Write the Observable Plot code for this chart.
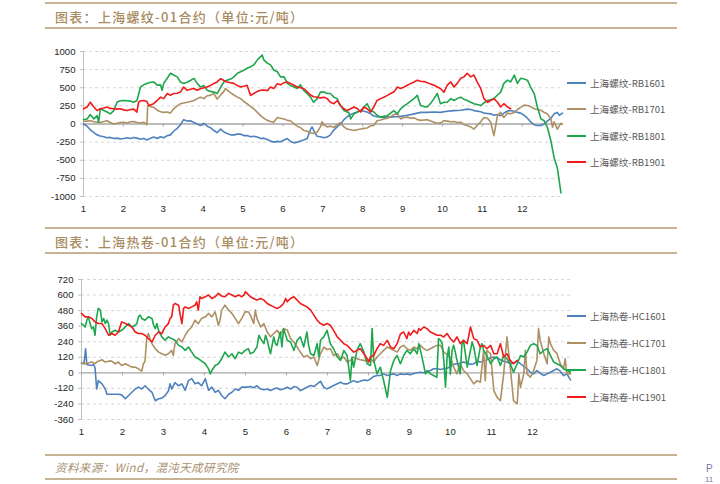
<!DOCTYPE html>
<html><head><meta charset="utf-8">
<script src="https://cdn.jsdelivr.net/npm/d3@7"></script>
<script src="https://cdn.jsdelivr.net/npm/@observablehq/plot@0.6"></script>
<style>
body{margin:0;width:720px;height:484px;position:relative;background:#fff;overflow:hidden;font-family:"Noto Sans CJK SC",sans-serif}
.hl{position:absolute;left:45px;width:632px;height:2px;background:#c9b394}
.title{position:absolute;left:55px;font-size:13px;line-height:16px;color:#a88b60;letter-spacing:1.3px;font-weight:500;white-space:nowrap}
.plot{position:absolute;left:0}
.row{position:absolute;display:flex;align-items:center;white-space:nowrap;font-size:9.6px;line-height:14px;height:14px;color:#595959}
.sw{width:19px;height:2px;margin-right:4px}
.foot{position:absolute;left:55px;top:459px;font-size:11.5px;line-height:16px;color:#a89070;font-style:italic;letter-spacing:0.4px}
</style></head>
<body>
<div class="hl" style="top:2px"></div>
<div class="title" style="top:9px">图表：上海螺纹-01合约（单位:元/吨）</div>
<div class="hl" style="top:27px"></div>
<div id="p1" class="plot" style="top:40px"></div>
<div id="l1"></div>
<div class="hl" style="top:227px"></div>
<div class="title" style="top:234px">图表：上海热卷-01合约（单位:元/吨）</div>
<div class="hl" style="top:252px"></div>
<div id="p2" class="plot" style="top:265px"></div>
<div id="l2"></div>
<div class="hl" style="top:454px"></div>
<div class="foot">资料来源：Wind，混沌天成研究院</div>
<div class="hl" style="top:478px"></div>
<div style="position:absolute;left:706px;top:463px;font-size:10px;color:#7d74aa;font-family:'Liberation Sans',sans-serif">P</div>
<div style="position:absolute;left:705px;top:475px;font-size:8px;color:#7d74aa;font-family:'Liberation Sans',sans-serif">11</div>
<script>
const months = [1,2,3,4,5,6,7,8,9,10,11,12];
const rbTicks = [-1000,-750,-500,-250,0,250,500,750,1000];
const hcTicks = [-360,-240,-120,0,120,240,360,480,600,720];
const rbNames = ["上海螺纹-RB1601","上海螺纹-RB1701","上海螺纹-RB1801","上海螺纹-RB1901"];
const hcNames = ["上海热卷-HC1601","上海热卷-HC1701","上海热卷-HC1801","上海热卷-HC1901"];
const colors = ["#4f81bd","#ad9064","#1ea64c","#f01b1b"];

const rb1601 = [[1.00,0],[1.09,-30],[1.17,-80],[1.26,-120],[1.34,-150],[1.42,-165],[1.51,-175],[1.59,-190],[1.67,-185],[1.76,-200],[1.84,-195],[1.92,-205],[2.01,-200],[2.09,-190],[2.18,-200],[2.26,-185],[2.34,-195],[2.43,-210],[2.51,-200],[2.59,-220],[2.68,-195],[2.76,-180],[2.85,-200],[2.93,-175],[3.01,-190],[3.10,-160],[3.18,-150],[3.26,-100],[3.35,-60],[3.43,-10],[3.51,60],[3.60,40],[3.68,45],[3.77,20],[3.85,0],[3.93,-20],[4.02,10],[4.10,-30],[4.18,-50],[4.27,-90],[4.35,-120],[4.44,-70],[4.52,-110],[4.60,-130],[4.69,-150],[4.77,-150],[4.86,-140],[4.94,-140],[5.02,-160],[5.10,-160],[5.19,-175],[5.27,-170],[5.36,-180],[5.44,-200],[5.52,-195],[5.61,-215],[5.69,-235],[5.77,-250],[5.86,-240],[5.94,-245],[6.03,-220],[6.11,-200],[6.19,-240],[6.28,-260],[6.36,-250],[6.44,-235],[6.52,-220],[6.61,-200],[6.69,-80],[6.73,-40],[6.78,-100],[6.86,-170],[6.94,-175],[7.03,-190],[7.11,-180],[7.19,-150],[7.28,-80],[7.36,-40],[7.45,0],[7.53,60],[7.61,100],[7.70,130],[7.78,150],[7.86,160],[7.95,185],[8.03,175],[8.11,165],[8.20,140],[8.28,110],[8.36,100],[8.45,95],[8.53,90],[8.62,100],[8.70,95],[8.78,100],[8.87,100],[8.95,105],[9.12,120],[9.29,140],[9.45,160],[9.62,160],[9.79,165],[9.95,160],[10.12,175],[10.29,185],[10.46,190],[10.62,205],[10.71,200],[10.79,185],[10.96,170],[11.04,150],[11.13,145],[11.21,140],[11.29,120],[11.38,130],[11.46,115],[11.54,150],[11.63,180],[11.71,185],[11.80,175],[11.88,160],[11.96,150],[12.05,120],[12.13,80],[12.21,30],[12.30,-10],[12.38,-20],[12.47,-20],[12.55,0],[12.63,40],[12.72,80],[12.80,140],[12.88,160],[12.93,120],[13.01,150]];
const rb1701 = [[1.00,35],[1.09,40],[1.17,45],[1.26,30],[1.34,25],[1.42,20],[1.51,35],[1.59,45],[1.67,20],[1.76,0],[1.84,10],[1.92,20],[2.01,25],[2.09,15],[2.18,30],[2.26,35],[2.34,20],[2.43,15],[2.51,25],[2.59,-10],[2.61,255],[2.68,240],[2.76,230],[2.85,190],[2.93,170],[3.01,160],[3.10,165],[3.18,150],[3.26,210],[3.35,250],[3.43,280],[3.51,290],[3.60,300],[3.68,310],[3.77,325],[3.85,350],[3.93,370],[4.02,350],[4.10,390],[4.18,395],[4.27,420],[4.35,345],[4.44,400],[4.52,450],[4.56,490],[4.60,470],[4.69,430],[4.77,400],[4.86,370],[4.94,350],[5.02,310],[5.10,280],[5.19,240],[5.27,210],[5.36,160],[5.44,115],[5.52,80],[5.61,50],[5.69,35],[5.77,25],[5.86,90],[5.94,80],[6.03,70],[6.11,50],[6.19,45],[6.28,0],[6.36,-30],[6.44,-50],[6.53,-90],[6.61,-100],[6.69,-120],[6.77,-130],[6.86,-110],[6.94,-40],[6.98,30],[7.03,-10],[7.11,-40],[7.19,-30],[7.28,-45],[7.36,-10],[7.44,20],[7.53,-40],[7.61,-70],[7.70,-80],[7.78,-90],[7.86,-80],[7.95,-70],[8.03,-60],[8.11,-55],[8.20,-25],[8.28,-20],[8.36,45],[8.45,55],[8.53,70],[8.62,80],[8.70,100],[8.78,130],[8.87,140],[8.95,70],[9.04,90],[9.12,95],[9.21,80],[9.29,85],[9.37,60],[9.45,50],[9.54,55],[9.62,60],[9.71,40],[9.79,25],[9.87,10],[9.95,15],[10.04,45],[10.12,40],[10.21,30],[10.29,35],[10.37,20],[10.46,25],[10.54,-10],[10.62,-20],[10.71,-40],[10.79,-70],[10.87,-20],[10.96,30],[11.04,90],[11.13,80],[11.21,25],[11.29,-160],[11.38,115],[11.46,160],[11.54,90],[11.63,150],[11.71,140],[11.80,160],[11.88,200],[11.96,230],[12.05,260],[12.13,255],[12.21,240],[12.30,210],[12.38,200],[12.47,190],[12.55,160],[12.63,140],[12.72,70],[12.76,-45],[12.80,30],[12.88,-70],[12.97,10],[13.01,0]];
const rb1801 = [[1.00,60],[1.09,70],[1.17,130],[1.26,70],[1.34,115],[1.38,25],[1.42,210],[1.51,185],[1.59,165],[1.67,140],[1.76,185],[1.84,300],[1.92,320],[2.01,325],[2.09,320],[2.18,315],[2.26,300],[2.34,325],[2.43,510],[2.51,540],[2.59,560],[2.68,575],[2.76,580],[2.85,535],[2.93,540],[2.97,465],[3.01,560],[3.10,630],[3.18,700],[3.26,675],[3.35,650],[3.43,580],[3.51,560],[3.60,575],[3.68,600],[3.77,630],[3.85,560],[3.93,510],[4.02,530],[4.10,465],[4.18,450],[4.27,440],[4.35,420],[4.44,510],[4.52,580],[4.60,605],[4.69,620],[4.77,650],[4.86,700],[4.94,720],[5.02,740],[5.10,770],[5.19,790],[5.27,815],[5.36,885],[5.44,930],[5.48,950],[5.52,885],[5.61,840],[5.69,815],[5.77,745],[5.86,720],[5.94,650],[6.03,650],[6.11,560],[6.19,530],[6.28,510],[6.36,490],[6.44,540],[6.52,465],[6.61,420],[6.69,370],[6.77,300],[6.86,350],[6.94,440],[7.03,440],[7.11,420],[7.19,420],[7.28,370],[7.36,350],[7.44,255],[7.53,185],[7.61,165],[7.65,160],[7.70,70],[7.78,140],[7.86,165],[7.95,185],[8.03,235],[8.11,280],[8.20,185],[8.28,165],[8.36,120],[8.45,95],[8.53,105],[8.62,115],[8.70,150],[8.78,185],[8.87,140],[8.95,210],[9.04,250],[9.12,280],[9.21,320],[9.29,350],[9.37,395],[9.45,255],[9.54,240],[9.62,235],[9.71,290],[9.79,350],[9.87,420],[9.95,280],[10.04,300],[10.12,300],[10.21,350],[10.29,325],[10.37,350],[10.46,370],[10.54,340],[10.62,325],[10.71,300],[10.79,280],[10.87,270],[10.96,255],[11.04,290],[11.13,325],[11.21,335],[11.29,350],[11.38,400],[11.46,440],[11.54,560],[11.63,605],[11.71,580],[11.80,675],[11.88,560],[11.96,630],[12.05,620],[12.13,605],[12.21,510],[12.30,420],[12.38,235],[12.47,70],[12.55,45],[12.63,-45],[12.72,-235],[12.80,-465],[12.88,-605],[12.93,-790],[12.97,-950]];
const rb1901 = [[1.00,210],[1.09,235],[1.17,300],[1.26,235],[1.34,185],[1.42,210],[1.51,220],[1.59,235],[1.67,215],[1.76,210],[1.84,205],[1.92,210],[2.01,195],[2.09,185],[2.18,200],[2.26,205],[2.34,165],[2.38,300],[2.43,320],[2.51,325],[2.59,310],[2.64,255],[2.76,280],[2.85,325],[2.93,370],[3.01,350],[3.10,420],[3.18,395],[3.26,420],[3.35,425],[3.43,440],[3.51,510],[3.60,465],[3.68,480],[3.77,490],[3.85,465],[3.93,485],[4.02,500],[4.10,510],[4.18,530],[4.27,560],[4.35,580],[4.44,625],[4.52,600],[4.60,580],[4.69,570],[4.77,560],[4.86,530],[4.94,510],[5.02,520],[5.10,535],[5.19,395],[5.27,420],[5.36,450],[5.44,465],[5.52,470],[5.61,460],[5.69,510],[5.77,490],[5.86,555],[5.94,540],[6.03,570],[6.11,580],[6.19,560],[6.28,535],[6.36,510],[6.44,500],[6.52,490],[6.61,445],[6.69,400],[6.77,375],[6.86,370],[6.94,360],[7.03,370],[7.11,350],[7.19,300],[7.28,280],[7.36,325],[7.44,255],[7.53,210],[7.61,185],[7.70,210],[7.78,235],[7.86,215],[7.95,165],[8.03,235],[8.11,210],[8.20,165],[8.28,235],[8.36,325],[8.45,350],[8.53,370],[8.62,395],[8.70,420],[8.78,440],[8.87,510],[8.95,490],[9.04,510],[9.12,535],[9.21,560],[9.29,580],[9.37,605],[9.45,590],[9.54,585],[9.62,570],[9.71,550],[9.79,535],[9.87,510],[9.95,490],[10.04,440],[10.12,535],[10.21,580],[10.29,510],[10.37,560],[10.46,630],[10.54,650],[10.62,700],[10.71,650],[10.79,675],[10.87,580],[10.96,490],[11.04,350],[11.13,300],[11.21,325],[11.29,350],[11.38,300],[11.46,235],[11.54,280],[11.63,235],[11.71,210]];

const hc1601 = [[1.00,75],[1.06,70],[1.10,185],[1.13,65],[1.17,60],[1.25,57],[1.29,65],[1.33,40],[1.37,-125],[1.41,-60],[1.50,-85],[1.58,-125],[1.62,-165],[1.74,-165],[1.90,-165],[1.98,-170],[2.07,-200],[2.15,-175],[2.23,-150],[2.31,-125],[2.39,-110],[2.47,-125],[2.55,-100],[2.63,-125],[2.72,-150],[2.80,-215],[2.88,-200],[2.96,-195],[3.04,-175],[3.12,-140],[3.16,-85],[3.20,-125],[3.28,-75],[3.37,-100],[3.45,-85],[3.53,-135],[3.61,-60],[3.69,-45],[3.77,-85],[3.85,-75],[3.93,-100],[4.02,-45],[4.10,-135],[4.18,-110],[4.26,-150],[4.34,-135],[4.42,-175],[4.50,-200],[4.59,-165],[4.67,-150],[4.75,-125],[4.83,-135],[4.91,-110],[4.99,-110],[5.04,-110],[5.12,-105],[5.20,-115],[5.28,-100],[5.37,-125],[5.45,-130],[5.53,-125],[5.61,-137],[5.69,-125],[5.77,-117],[5.85,-130],[5.93,-125],[6.02,-111],[6.10,-125],[6.18,-106],[6.26,-111],[6.34,-137],[6.42,-125],[6.50,-111],[6.59,-98],[6.67,-106],[6.75,-85],[6.83,-65],[6.91,-111],[6.99,-124],[7.07,-111],[7.15,-98],[7.24,-85],[7.32,-72],[7.40,-85],[7.48,-85],[7.56,-72],[7.64,-60],[7.72,-72],[7.80,-65],[7.89,-55],[7.97,-60],[8.05,-47],[8.13,-28],[8.21,-20],[8.29,-20],[8.37,-8],[8.46,-20],[8.54,-13],[8.62,-8],[8.70,-20],[8.78,-8],[8.86,-13],[8.94,-8],[9.02,-15],[9.11,-5],[9.19,0],[9.27,5],[9.35,0],[9.43,5],[9.51,18],[9.59,31],[9.67,31],[9.76,26],[9.84,31],[9.92,36],[10.00,49],[10.08,65],[10.16,70],[10.24,75],[10.32,83],[10.41,75],[10.49,65],[10.57,70],[10.65,90],[10.73,83],[10.81,90],[10.89,101],[10.98,116],[11.06,122],[11.14,116],[11.22,101],[11.30,90],[11.38,83],[11.46,70],[11.54,75],[11.63,90],[11.71,70],[11.79,49],[11.87,31],[11.95,5],[12.03,-8],[12.11,18],[12.19,-3],[12.28,-21],[12.36,-8],[12.44,5],[12.52,18],[12.60,31],[12.68,13],[12.76,-21],[12.84,-8],[12.93,-54]];
const hc1701 = [[1.00,75],[1.09,70],[1.17,75],[1.25,83],[1.33,70],[1.37,83],[1.41,90],[1.50,101],[1.58,83],[1.66,90],[1.74,90],[1.82,70],[1.90,83],[1.98,57],[2.07,70],[2.15,57],[2.23,44],[2.31,44],[2.39,31],[2.47,13],[2.51,70],[2.55,90],[2.59,264],[2.63,303],[2.67,264],[2.72,225],[2.80,186],[2.88,160],[2.96,147],[3.04,135],[3.12,147],[3.20,173],[3.24,135],[3.28,225],[3.37,264],[3.45,238],[3.53,290],[3.61,328],[3.69,354],[3.77,406],[3.85,380],[3.93,420],[4.02,432],[4.10,458],[4.18,432],[4.26,470],[4.34,367],[4.38,406],[4.42,484],[4.50,522],[4.59,484],[4.67,458],[4.75,420],[4.83,380],[4.91,420],[4.99,470],[5.07,470],[5.12,445],[5.20,380],[5.24,484],[5.28,420],[5.37,354],[5.45,380],[5.53,315],[5.61,277],[5.69,303],[5.77,328],[5.85,290],[5.93,341],[6.02,330],[6.10,264],[6.18,238],[6.26,199],[6.34,160],[6.42,122],[6.50,134],[6.59,109],[6.67,122],[6.75,57],[6.83,147],[6.91,199],[6.99,180],[7.07,186],[7.15,134],[7.24,147],[7.32,109],[7.40,122],[7.48,83],[7.56,96],[7.64,122],[7.72,109],[7.80,101],[7.89,96],[7.97,90],[8.05,109],[8.13,83],[8.21,122],[8.29,147],[8.37,173],[8.46,199],[8.54,186],[8.62,173],[8.70,160],[8.78,199],[8.86,212],[8.94,186],[9.02,173],[9.11,199],[9.19,186],[9.27,212],[9.35,186],[9.43,173],[9.51,186],[9.59,199],[9.67,212],[9.76,212],[9.84,160],[10.00,122],[10.08,44],[10.16,-8],[10.24,70],[10.32,18],[10.41,-8],[10.49,-47],[10.57,-85],[10.65,-60],[10.73,-72],[10.81,173],[10.85,-60],[10.89,173],[10.98,147],[11.06,-137],[11.14,-189],[11.22,-215],[11.30,-8],[11.38,277],[11.46,44],[11.54,-215],[11.63,-240],[11.67,-8],[11.71,-111],[11.79,-8],[11.83,173],[11.87,-8],[11.95,-34],[12.03,18],[12.11,96],[12.15,341],[12.19,251],[12.28,147],[12.36,70],[12.40,277],[12.44,225],[12.52,173],[12.60,150],[12.68,70],[12.76,31],[12.80,109],[12.84,-8],[12.93,-8]];
const hc1801 = [[1.00,380],[1.05,367],[1.09,354],[1.13,406],[1.17,432],[1.21,380],[1.25,341],[1.29,354],[1.33,290],[1.37,432],[1.41,497],[1.46,484],[1.50,393],[1.54,419],[1.58,380],[1.62,406],[1.66,380],[1.70,290],[1.74,315],[1.82,328],[1.90,315],[1.98,328],[2.07,354],[2.15,380],[2.23,354],[2.31,367],[2.35,380],[2.39,432],[2.43,445],[2.47,419],[2.55,406],[2.63,432],[2.72,419],[2.76,367],[2.80,341],[2.84,380],[2.88,328],[2.96,277],[3.04,251],[3.12,277],[3.20,264],[3.28,251],[3.37,212],[3.45,199],[3.53,173],[3.61,199],[3.69,160],[3.77,122],[3.85,109],[3.93,90],[4.02,70],[4.10,31],[4.14,-8],[4.18,18],[4.26,57],[4.34,70],[4.42,109],[4.50,160],[4.59,122],[4.67,147],[4.75,109],[4.83,160],[4.91,147],[4.99,173],[5.07,186],[5.12,147],[5.20,160],[5.28,199],[5.33,290],[5.37,264],[5.45,225],[5.49,290],[5.53,251],[5.57,199],[5.61,147],[5.69,277],[5.73,225],[5.77,212],[5.85,315],[5.89,199],[5.93,341],[6.02,251],[6.10,238],[6.18,173],[6.26,251],[6.34,277],[6.42,199],[6.50,315],[6.54,212],[6.59,147],[6.67,134],[6.75,225],[6.79,122],[6.83,251],[6.91,277],[6.99,328],[7.07,225],[7.15,186],[7.24,122],[7.32,96],[7.40,173],[7.48,134],[7.56,-59],[7.60,122],[7.64,44],[7.72,173],[7.80,225],[7.89,160],[7.97,70],[8.05,57],[8.09,341],[8.13,96],[8.21,-8],[8.29,44],[8.37,-59],[8.46,-189],[8.50,-85],[8.54,18],[8.62,96],[8.70,134],[8.78,70],[8.86,134],[8.94,173],[9.02,147],[9.11,186],[9.19,147],[9.23,225],[9.27,173],[9.35,57],[9.39,-8],[9.43,18],[9.51,-8],[9.59,-21],[9.67,-34],[9.71,264],[9.76,251],[9.80,225],[9.84,96],[9.88,-111],[9.92,122],[9.96,199],[10.00,-8],[10.04,173],[10.08,212],[10.12,160],[10.16,96],[10.24,-8],[10.28,212],[10.32,251],[10.41,44],[10.49,173],[10.53,238],[10.57,199],[10.65,57],[10.73,199],[10.77,225],[10.81,173],[10.89,134],[10.98,70],[11.06,109],[11.14,122],[11.22,57],[11.30,134],[11.38,109],[11.46,70],[11.54,5],[11.63,70],[11.71,134],[11.79,122],[11.87,160],[11.95,212],[12.03,225],[12.11,212],[12.19,147],[12.28,173],[12.36,186],[12.44,134],[12.52,83],[12.60,70],[12.68,57],[12.76,31],[12.84,18],[12.93,5]];
const hc1901 = [[1.00,458],[1.09,432],[1.17,432],[1.25,420],[1.33,393],[1.41,380],[1.50,380],[1.58,341],[1.66,290],[1.74,303],[1.82,290],[1.90,315],[1.98,393],[2.07,380],[2.15,367],[2.23,354],[2.31,315],[2.39,303],[2.47,303],[2.55,290],[2.63,264],[2.72,238],[2.80,290],[2.88,315],[2.96,303],[3.04,354],[3.12,380],[3.16,419],[3.20,432],[3.24,522],[3.28,535],[3.37,522],[3.41,445],[3.45,380],[3.49,497],[3.53,509],[3.61,497],[3.69,509],[3.77,522],[3.81,548],[3.85,484],[3.89,587],[3.93,574],[4.02,587],[4.10,600],[4.18,574],[4.26,587],[4.34,613],[4.42,592],[4.50,587],[4.59,613],[4.67,600],[4.75,587],[4.83,600],[4.91,587],[4.96,600],[5.00,626],[5.04,613],[5.12,587],[5.20,574],[5.28,561],[5.37,574],[5.45,561],[5.53,535],[5.61,522],[5.69,509],[5.77,496],[5.85,509],[5.93,535],[5.98,574],[6.02,548],[6.10,574],[6.18,587],[6.26,561],[6.34,535],[6.42,522],[6.50,509],[6.59,484],[6.67,445],[6.75,406],[6.83,380],[6.91,367],[6.99,380],[7.07,367],[7.15,328],[7.24,277],[7.32,251],[7.40,225],[7.48,212],[7.56,186],[7.64,160],[7.72,173],[7.80,186],[7.89,147],[7.97,109],[8.01,83],[8.05,122],[8.13,135],[8.21,186],[8.29,225],[8.37,212],[8.46,251],[8.54,199],[8.62,186],[8.70,225],[8.78,300],[8.86,315],[8.94,264],[8.98,315],[9.02,290],[9.11,328],[9.19,303],[9.23,341],[9.27,328],[9.35,354],[9.43,341],[9.51,315],[9.59,303],[9.67,290],[9.76,290],[9.84,277],[9.92,303],[10.00,264],[10.08,238],[10.16,277],[10.24,225],[10.32,251],[10.41,225],[10.49,354],[10.57,264],[10.65,251],[10.73,199],[10.81,212],[10.89,186],[10.98,212],[11.06,147],[11.14,147],[11.22,225],[11.30,122],[11.38,147],[11.46,96],[11.54,70],[11.63,96]];

function rows(names, arrays) {
  return names.flatMap((n, i) => arrays[i].map(([m, v]) => ({m, v, s: n})));
}

function panel({data, names, ticks, xmax, ymin, ymax, width, height, ml, mr, mt, mb}) {
  return Plot.plot({
    width, height, marginLeft: ml, marginRight: mr, marginTop: mt, marginBottom: mb,
    x: {domain: [1, xmax]},
    y: {domain: [ymin, ymax]},
    color: {domain: names, range: colors},
    style: {fontFamily: '"Liberation Sans", Arial, sans-serif', fontSize: "9.6px", background: "transparent", color: "#262626"},
    marks: [
      Plot.ruleY(ticks.filter(t => t !== 0), {stroke: "#d6d6d6", strokeDasharray: "3,3"}),
      Plot.ruleX([1], {stroke: "#bfbfbf"}),
      Plot.axisY(ticks, {tickSize: 3, tickPadding: 5, stroke: "#bfbfbf", fill: "#262626", label: null, tickFormat: d => String(d)}),
      Plot.axisX(months, {tickSize: 0, tickPadding: 9, fill: "#262626", label: null, tickFormat: d => String(d)}),
      Plot.ruleY([0], {stroke: "#a6a6a6", strokeWidth: 1.3}),
      Plot.ruleX(months, {x: d => d, y1: 0, y2: 0, insetBottom: -3, stroke: "#a6a6a6"}),
      Plot.line(data, {x: "m", y: "v", z: "s", stroke: "s", strokeWidth: 1.6})
    ]
  });
}

document.getElementById("p1").append(panel({
  data: rows(rbNames, [rb1601, rb1701, rb1801, rb1901]), names: rbNames, ticks: rbTicks,
  xmax: 13.01, ymin: -1000, ymax: 1000, width: 566, height: 185, ml: 83, mr: 4, mt: 11, mb: 29
}));
document.getElementById("p2").append(panel({
  data: rows(hcNames, [hc1601, hc1701, hc1801, hc1901]), names: hcNames, ticks: hcTicks,
  xmax: 12.93, ymin: -360, ymax: 720, width: 574, height: 180, ml: 81, mr: 4, mt: 14, mb: 26
}));

function legend(id, names, ys) {
  const el = document.getElementById(id);
  names.forEach((n, i) => {
    const r = document.createElement("div");
    r.className = "row";
    r.style.left = "567px";
    r.style.top = (ys[i] - 7) + "px";
    r.innerHTML = `<span class="sw" style="background:${colors[i]}"></span><span>${n}</span>`;
    el.append(r);
  });
}
legend("l1", rbNames, [83, 109, 136, 162]);
legend("l2", hcNames, [316, 343, 370, 397]);
</script>
</body></html>
